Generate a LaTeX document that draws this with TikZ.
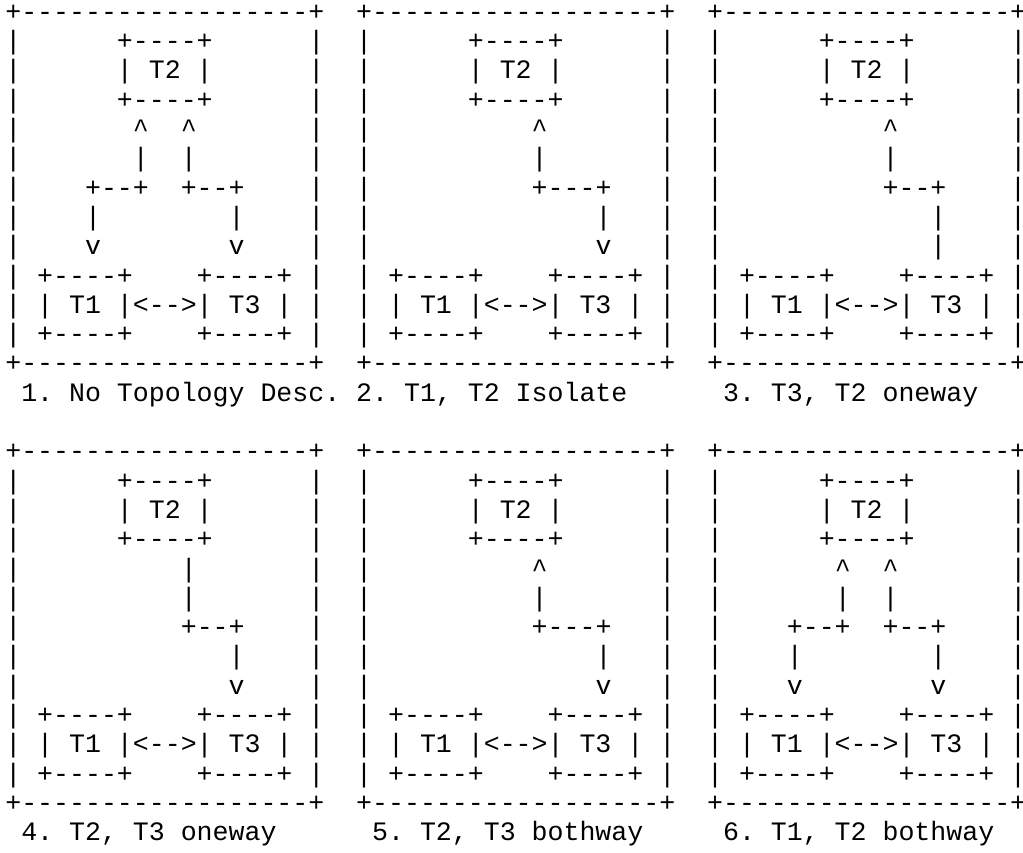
\documentclass[tikz,border=0pt]{standalone}
\usepackage{fontspec}
\setmonofont{Liberation Mono}
\usepackage{tikz}
\usepackage{tkz-euclide}

\tikzset{
  painel/.style={anchor=base west, inner sep=0pt, outer sep=0pt, align=left,
    font=\ttfamily\fontsize{19.94}{21.98}\selectfont},
  legenda/.style={anchor=base west, inner sep=0pt, outer sep=0pt,
    font=\ttfamily\fontsize{19.94}{21.98}\selectfont}
}
\newcommand{\cima}{\textasciicircum}

\begin{document}
\begin{tikzpicture}[x=0.75pt, y=0.75pt] %unidade = 1 pixel da figura original

\useasboundingbox (0,0) rectangle (1023,852);

%Pontos de referencia: canto (linha de base da ultima linha) de cada painel e de cada legenda
\tkzDefPoints{
5.3/480.0/A,
356.2/480.0/B,
707.1/480.0/C,
5.3/40.5/D,
356.2/40.5/E,
707.1/40.5/F}
\tkzDefPoints{
21.25/450.7/LA,
356.2/450.7/LB,
723.05/450.7/LC,
21.25/11.5/LD,
372.15/11.5/LE,
723.05/11.5/LF}

%Painel 1: sem descricao de topologia (T2 liga-se a T1 e a T3)
%---------------------------------------------------
\node[painel] (painel1) at (A) {%
+------------------+\\
|~~~~~~+----+~~~~~~|\\
|~~~~~~|~T2~|~~~~~~|\\
|~~~~~~+----+~~~~~~|\\
|~~~~~~~\cima~~\cima~~~~~~~|\\
|~~~~~~~|~~|~~~~~~~|\\
|~~~~+--+~~+--+~~~~|\\
|~~~~|~~~~~~~~|~~~~|\\
|~~~~v~~~~~~~~v~~~~|\\
|~+----+~~~~+----+~|\\
|~|~T1~|<-->|~T3~|~|\\
|~+----+~~~~+----+~|\\
+------------------+};
\node[legenda] (legenda1) at (LA) {1.~No~Topology~Desc.};
%---------------------------------------------------

%Painel 2: T1 e T2 isolados
%---------------------------------------------------
\node[painel] (painel2) at (B) {%
+------------------+\\
|~~~~~~+----+~~~~~~|\\
|~~~~~~|~T2~|~~~~~~|\\
|~~~~~~+----+~~~~~~|\\
|~~~~~~~~~~\cima~~~~~~~|\\
|~~~~~~~~~~|~~~~~~~|\\
|~~~~~~~~~~+---+~~~|\\
|~~~~~~~~~~~~~~|~~~|\\
|~~~~~~~~~~~~~~v~~~|\\
|~+----+~~~~+----+~|\\
|~|~T1~|<-->|~T3~|~|\\
|~+----+~~~~+----+~|\\
+------------------+};
\node[legenda] (legenda2) at (LB) {2.~T1,~T2~Isolate};
%---------------------------------------------------

%Painel 3: T3 para T2 num so sentido
%---------------------------------------------------
\node[painel] (painel3) at (C) {%
+------------------+\\
|~~~~~~+----+~~~~~~|\\
|~~~~~~|~T2~|~~~~~~|\\
|~~~~~~+----+~~~~~~|\\
|~~~~~~~~~~\cima~~~~~~~|\\
|~~~~~~~~~~|~~~~~~~|\\
|~~~~~~~~~~+--+~~~~|\\
|~~~~~~~~~~~~~|~~~~|\\
|~~~~~~~~~~~~~|~~~~|\\
|~+----+~~~~+----+~|\\
|~|~T1~|<-->|~T3~|~|\\
|~+----+~~~~+----+~|\\
+------------------+};
\node[legenda] (legenda3) at (LC) {3.~T3,~T2~oneway};
%---------------------------------------------------

%Painel 4: T2 para T3 num so sentido
%---------------------------------------------------
\node[painel] (painel4) at (D) {%
+------------------+\\
|~~~~~~+----+~~~~~~|\\
|~~~~~~|~T2~|~~~~~~|\\
|~~~~~~+----+~~~~~~|\\
|~~~~~~~~~~|~~~~~~~|\\
|~~~~~~~~~~|~~~~~~~|\\
|~~~~~~~~~~+--+~~~~|\\
|~~~~~~~~~~~~~|~~~~|\\
|~~~~~~~~~~~~~v~~~~|\\
|~+----+~~~~+----+~|\\
|~|~T1~|<-->|~T3~|~|\\
|~+----+~~~~+----+~|\\
+------------------+};
\node[legenda] (legenda4) at (LD) {4.~T2,~T3~oneway};
%---------------------------------------------------

%Painel 5: T2 e T3 nos dois sentidos
%---------------------------------------------------
\node[painel] (painel5) at (E) {%
+------------------+\\
|~~~~~~+----+~~~~~~|\\
|~~~~~~|~T2~|~~~~~~|\\
|~~~~~~+----+~~~~~~|\\
|~~~~~~~~~~\cima~~~~~~~|\\
|~~~~~~~~~~|~~~~~~~|\\
|~~~~~~~~~~+---+~~~|\\
|~~~~~~~~~~~~~~|~~~|\\
|~~~~~~~~~~~~~~v~~~|\\
|~+----+~~~~+----+~|\\
|~|~T1~|<-->|~T3~|~|\\
|~+----+~~~~+----+~|\\
+------------------+};
\node[legenda] (legenda5) at (LE) {5.~T2,~T3~bothway};
%---------------------------------------------------

%Painel 6: T1 e T2 nos dois sentidos
%---------------------------------------------------
\node[painel] (painel6) at (F) {%
+------------------+\\
|~~~~~~+----+~~~~~~|\\
|~~~~~~|~T2~|~~~~~~|\\
|~~~~~~+----+~~~~~~|\\
|~~~~~~~\cima~~\cima~~~~~~~|\\
|~~~~~~~|~~|~~~~~~~|\\
|~~~~+--+~~+--+~~~~|\\
|~~~~|~~~~~~~~|~~~~|\\
|~~~~v~~~~~~~~v~~~~|\\
|~+----+~~~~+----+~|\\
|~|~T1~|<-->|~T3~|~|\\
|~+----+~~~~+----+~|\\
+------------------+};
\node[legenda] (legenda6) at (LF) {6.~T1,~T2~bothway};
%---------------------------------------------------

\end{tikzpicture}
\end{document}
